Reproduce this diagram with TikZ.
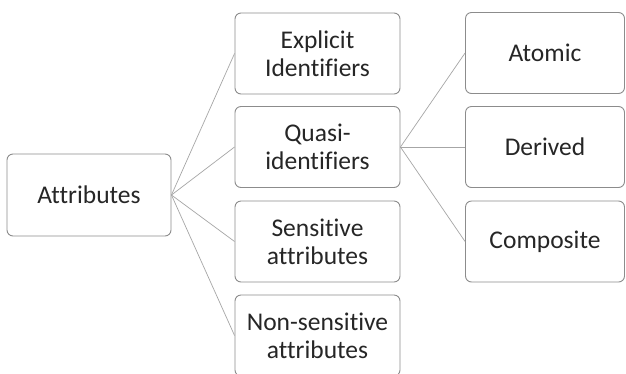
\documentclass[tikz,border=0pt]{standalone}
\usepackage{fontspec}
\setmainfont[Ligatures={NoCommon}]{Carlito}
\begin{document}
\begin{tikzpicture}[x=1pt,y=-1pt,
  box/.style={draw=black!45, line width=0.9pt, rounded corners=6pt, fill=white,
    minimum width=164pt, minimum height=81pt, inner sep=0pt, align=center,
    font=\fontsize{25.5}{28}\selectfont, text=black!85},
  link/.style={draw=black!35, line width=0.7pt}]
\clip (0,0) rectangle (626,373);
\fill[white] (0,0) rectangle (626,373);
\node[box, minimum width=164pt, minimum height=82pt] (attr) at (89,195) {Attributes};
\node[box, minimum width=165pt] (exp) at (317.5,53.5) {Explicit\\Identifiers};
\node[box, minimum width=165pt] (quasi) at (317.5,147) {Quasi-\\identifiers};
\node[box, minimum width=165pt] (sens) at (317.5,241.5) {Sensitive\\attributes};
\node[box, minimum width=165pt] (non) at (317.5,335.5) {Non-sensitive\\attributes};
\node[box, minimum width=159pt] (atom) at (545,53) {Atomic};
\node[box, minimum width=159pt] (der) at (545,147) {Derived};
\node[box, minimum width=159pt] (comp) at (545,241.5) {Composite};
\foreach \t in {exp,quasi,sens,non} \draw[link] (attr.east) -- (\t.west);
\foreach \t in {atom,der,comp} \draw[link] (quasi.east) -- (\t.west);
\end{tikzpicture}
\end{document}
